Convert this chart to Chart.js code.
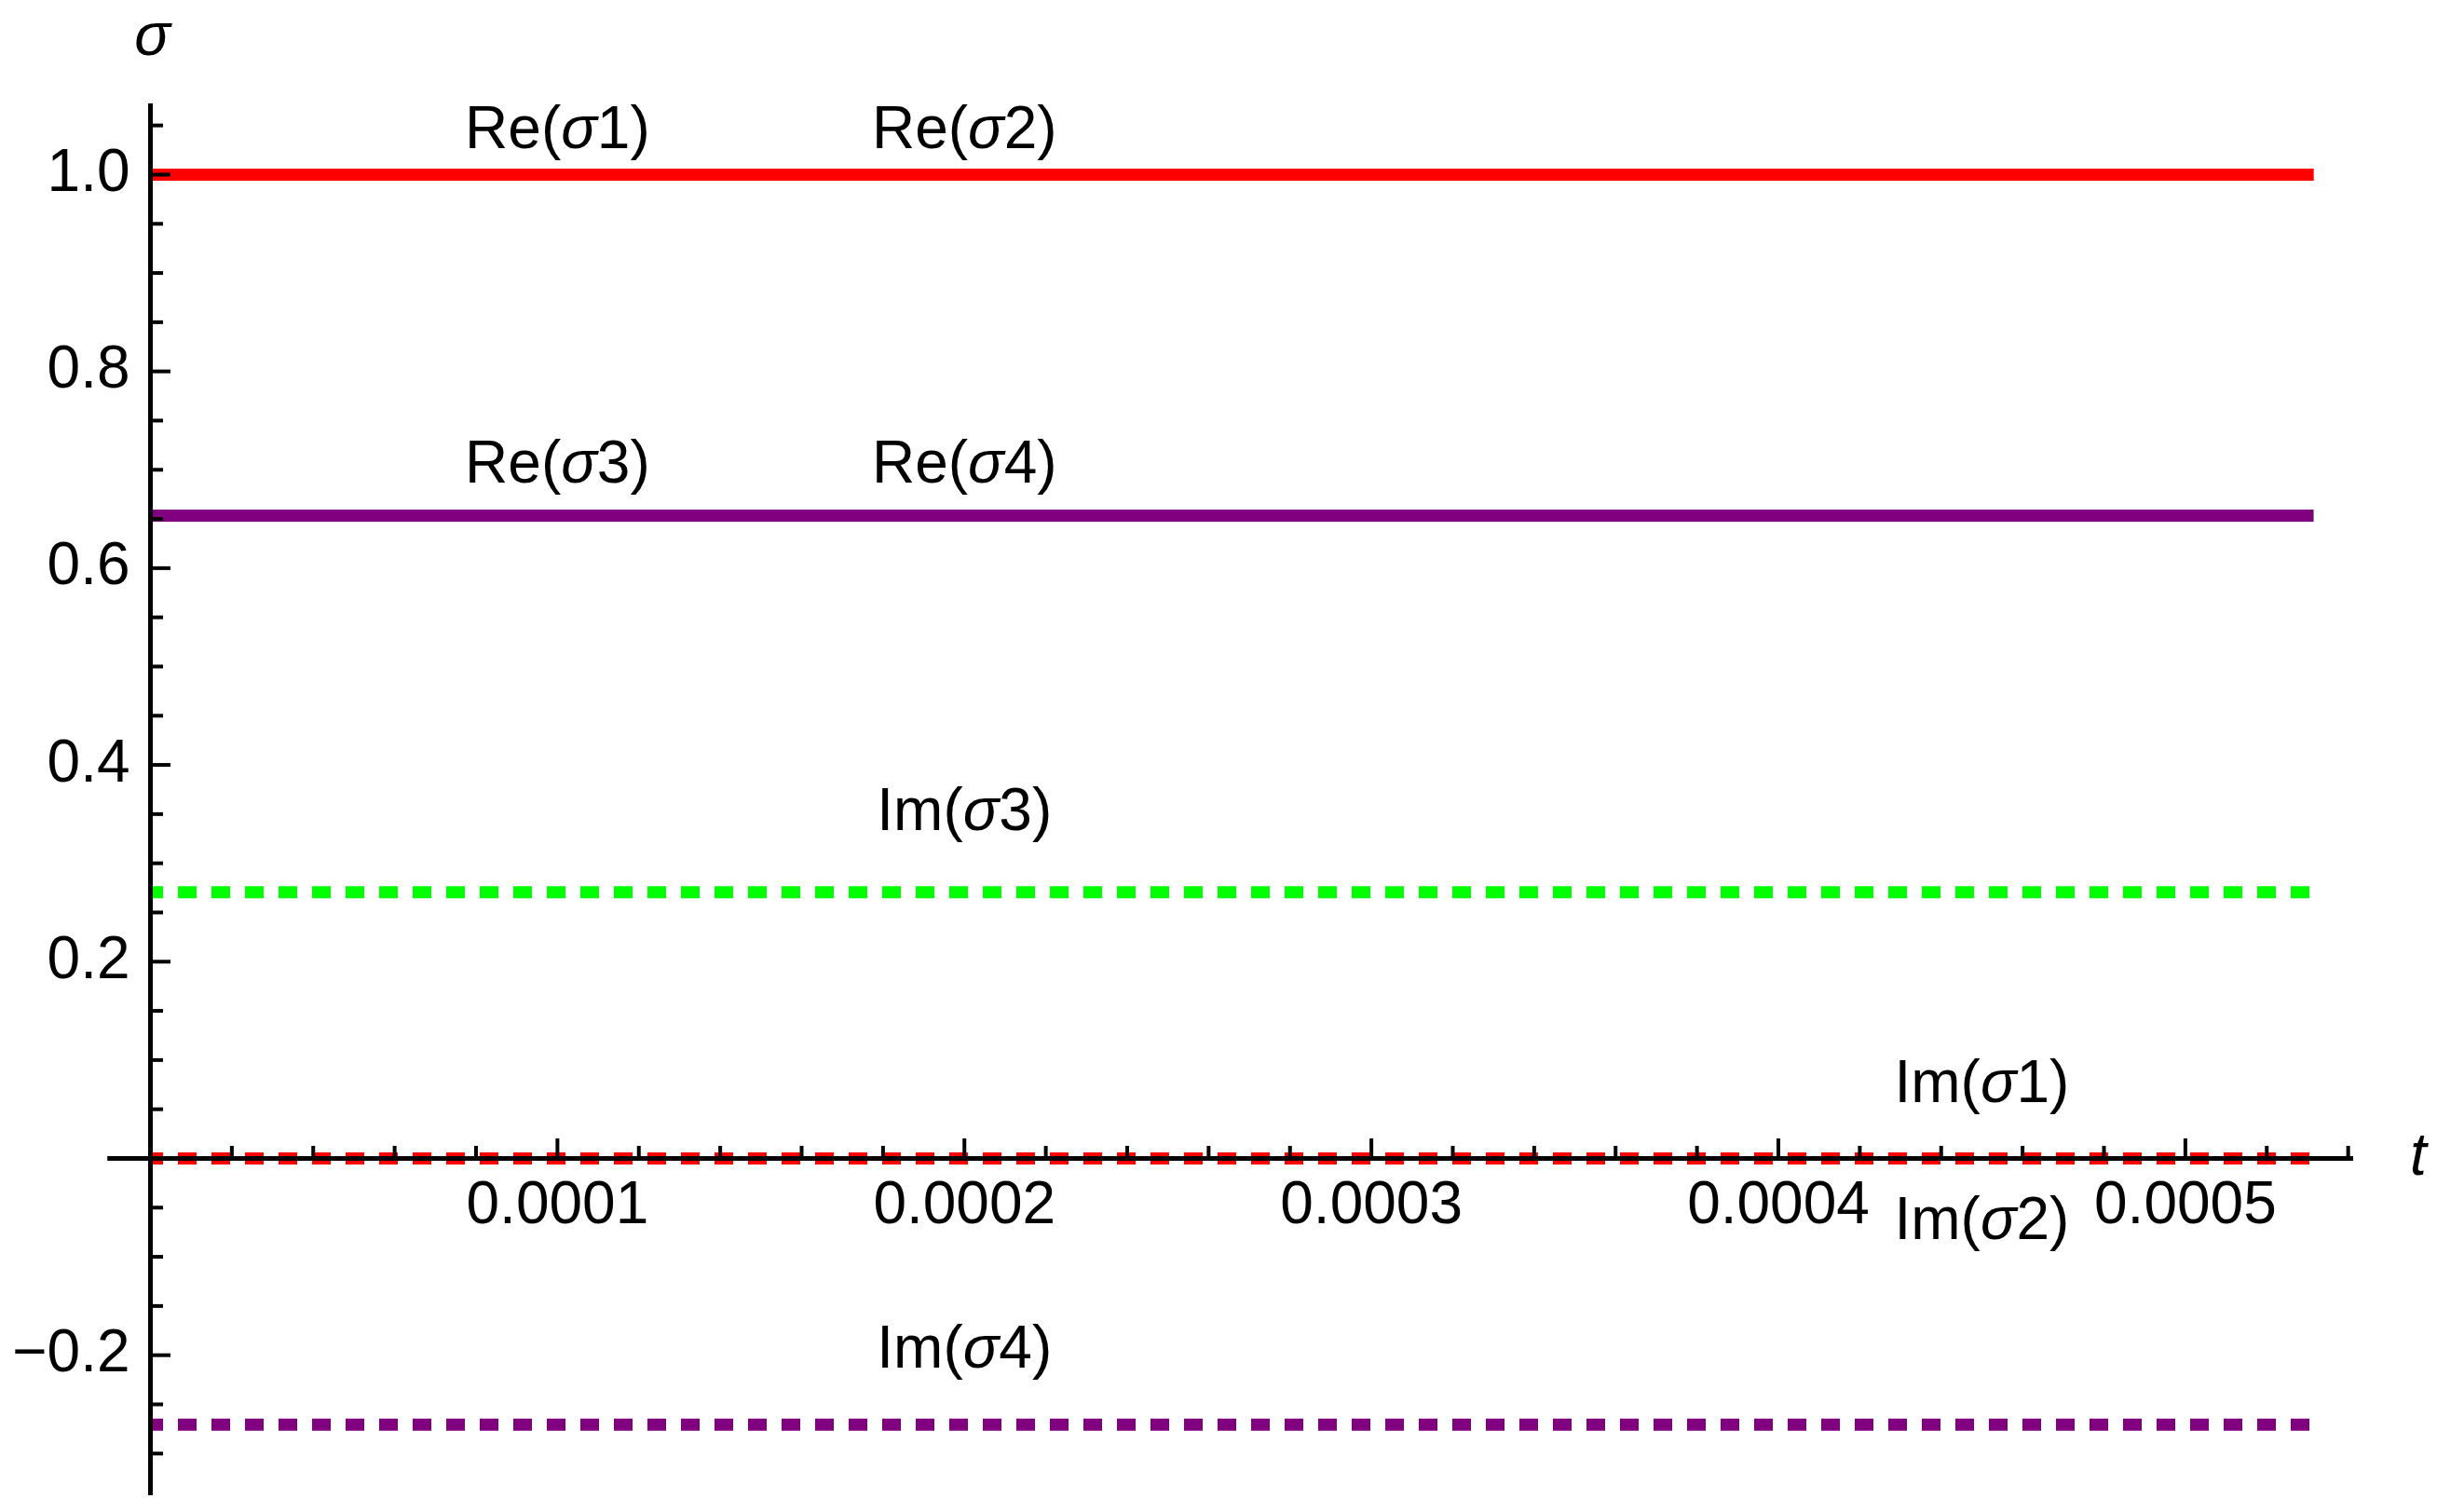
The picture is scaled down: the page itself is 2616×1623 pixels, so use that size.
<!DOCTYPE html>
<html>
<head>
<meta charset="utf-8">
<script src="https://cdn.jsdelivr.net/npm/chart.js@4.4.1/dist/chart.umd.min.js"></script>
<style>
  html, body { margin: 0; padding: 0; background: #ffffff; }
  #wrap { width: 2616px; height: 1623px; position: relative; }
</style>
</head>
<body>
<div id="wrap"><canvas id="c"></canvas></div>
<script>
// ---------- data ----------
const tValues   = [0, 0.0001, 0.0002, 0.0003, 0.0004, 0.0005, 0.00053];
const reSigma1  = [1, 1, 1, 1, 1, 1, 1];
const reSigma2  = [1, 1, 1, 1, 1, 1, 1];
const reSigma3  = [0.6533, 0.6533, 0.6533, 0.6533, 0.6533, 0.6533, 0.6533];
const reSigma4  = [0.6533, 0.6533, 0.6533, 0.6533, 0.6533, 0.6533, 0.6533];
const imSigma1  = [0, 0, 0, 0, 0, 0, 0];
const imSigma2  = [0, 0, 0, 0, 0, 0, 0];
const imSigma3  = [0.2706, 0.2706, 0.2706, 0.2706, 0.2706, 0.2706, 0.2706];
const imSigma4  = [-0.2706, -0.2706, -0.2706, -0.2706, -0.2706, -0.2706, -0.2706];

// axis ranges
const tMin = 0, tMax = 0.000541, tAxisStart = -0.0000106;
const sigmaMin = -0.3414, sigmaMax = 1.0705;

// ticks
const xMajorTicks  = [0.0001, 0.0002, 0.0003, 0.0004, 0.0005];
const xTickLabels  = ['0.0001', '0.0002', '0.0003', '0.0004', '0.0005'];
const xMinorTicks  = [0.00002, 0.00004, 0.00006, 0.00008, 0.00012, 0.00014, 0.00016, 0.00018,
                      0.00022, 0.00024, 0.00026, 0.00028, 0.00032, 0.00034, 0.00036, 0.00038,
                      0.00042, 0.00044, 0.00046, 0.00048, 0.00052, 0.00054];
const yMajorTicks  = [-0.2, 0, 0.2, 0.4, 0.6, 0.8, 1.0];
const yTickLabels  = ['\u22120.2', '', '0.2', '0.4', '0.6', '0.8', '1.0'];
const yMinorTicks  = [-0.3, -0.25, -0.15, -0.1, -0.05, 0.05, 0.1, 0.15, 0.25, 0.3, 0.35,
                      0.45, 0.5, 0.55, 0.65, 0.7, 0.75, 0.85, 0.9, 0.95, 1.05];

// curve labels: [prefix, italic symbol, suffix], anchored in data coordinates
const curveLabelParts = [['Re(', '\u03c3', '1)'], ['Re(', '\u03c3', '2)'], ['Re(', '\u03c3', '3)'], ['Re(', '\u03c3', '4)'],
                         ['Im(', '\u03c3', '3)'], ['Im(', '\u03c3', '1)'], ['Im(', '\u03c3', '2)'], ['Im(', '\u03c3', '4)']];
const curveLabelT     = [0.0001, 0.0002, 0.0001, 0.0002, 0.0002, 0.00045, 0.00045, 0.0002];
const curveLabelSigma = [1.027, 1.027, 0.6866, 0.6866, 0.3338, 0.0573, -0.0819, -0.2126];

const axisLabelX = 't';
const axisLabelY = '\u03c3';

// ---------- styling ----------
const RED = '#ff0000', GREEN = '#00ff00', PURPLE = '#800080';
const FAMILY = "'Liberation Sans', Arial, sans-serif";
const FONT_SIZE = 64;
const REG = FONT_SIZE + 'px ' + FAMILY;
const ITAL = 'italic ' + FONT_SIZE + 'px ' + FAMILY;

function series(label, values, color, dashed) {
  return {
    label: label,
    data: tValues.map((t, i) => ({ x: t, y: values[i] })),
    borderColor: color,
    backgroundColor: color,
    borderWidth: 13,
    borderCapStyle: 'square',
    borderDash: dashed ? [7, 29] : [],
    pointRadius: 0,
    pointHoverRadius: 0,
    fill: false,
    tension: 0
  };
}

const decorPlugin = {
  id: 'decor',
  afterDraw(chart) {
    const { ctx, scales } = chart;
    const xs = scales.x, ys = scales.y;
    const x0 = xs.getPixelForValue(0);
    const y0 = ys.getPixelForValue(0);
    ctx.save();
    ctx.fillStyle = '#000000';
    // x axis extension left of the origin
    const xStart = xs.getPixelForValue(tAxisStart);
    ctx.fillRect(xStart, y0 - 2.5, x0 - xStart, 5);
    // y ticks (pointing right)
    yMajorTicks.forEach(v => { if (v !== 0) { const p = ys.getPixelForValue(v); ctx.fillRect(x0, p - 2, 2.5 + 19, 4); } });
    yMinorTicks.forEach(v => { const p = ys.getPixelForValue(v); ctx.fillRect(x0, p - 2, 2.5 + 11, 4); });
    // x ticks (pointing up)
    xMajorTicks.forEach(v => { const p = xs.getPixelForValue(v); ctx.fillRect(p - 2, y0 - 2.5 - 19, 4, 19 + 2.5); });
    xMinorTicks.forEach(v => { const p = xs.getPixelForValue(v); ctx.fillRect(p - 2, y0 - 2.5 - 11, 4, 11 + 2.5); });

    // curve labels
    ctx.textBaseline = 'alphabetic';
    ctx.textAlign = 'left';
    curveLabelParts.forEach((parts, k) => {
      const fonts = [REG, ITAL, REG];
      const widths = parts.map((s, i) => { ctx.font = fonts[i]; return ctx.measureText(s).width; });
      const total = widths.reduce((a, b) => a + b, 0);
      let xx = xs.getPixelForValue(curveLabelT[k]) - total / 2;
      const by = ys.getPixelForValue(curveLabelSigma[k]);
      parts.forEach((s, i) => { ctx.font = fonts[i]; ctx.fillText(s, xx, by); xx += widths[i]; });
    });

    // axis labels
    ctx.font = ITAL;
    ctx.textAlign = 'center';
    ctx.fillText(axisLabelY, x0 + 2, ys.top - 54);
    ctx.textAlign = 'left';
    ctx.fillText(axisLabelX, xs.right + 62, y0 + 18);
    ctx.restore();
  }
};

const tickFont = { family: FAMILY, size: FONT_SIZE, lineHeight: 1.2 };

new Chart(document.getElementById('c'), {
  type: 'line',
  data: {
    datasets: [
      series('Re(\u03c32)', reSigma2, RED, false),
      series('Re(\u03c31)', reSigma1, RED, false),
      series('Re(\u03c34)', reSigma4, PURPLE, false),
      series('Re(\u03c33)', reSigma3, GREEN, false),
      series('Im(\u03c32)', imSigma2, RED, true),
      series('Im(\u03c31)', imSigma1, RED, true),
      series('Im(\u03c34)', imSigma4, PURPLE, true),
      series('Im(\u03c33)', imSigma3, GREEN, true)
    ]
  },
  options: {
    responsive: true,
    maintainAspectRatio: false,
    devicePixelRatio: 1,
    animation: false,
    events: [],
    layout: { padding: { left: 0, top: 113, right: 91, bottom: 19 } },
    plugins: { legend: { display: false }, tooltip: { enabled: false }, title: { display: false } },
    scales: {
      x: {
        type: 'linear',
        min: tMin,
        max: tMax,
        position: { y: 0 },
        grid: { display: false, drawTicks: false, tickLength: 0 },
        border: { display: true, color: '#000000', width: 5, z: 1 },
        afterBuildTicks: s => { s.ticks = xMajorTicks.map(v => ({ value: v })); },
        afterFit: s => { s.paddingLeft = 0; s.paddingRight = 0; },
        ticks: {
          autoSkip: false, maxRotation: 0, minRotation: 0, padding: 13, color: '#000000',
          font: tickFont,
          callback: (v, i) => xTickLabels[i]
        }
      },
      y: {
        type: 'linear',
        min: sigmaMin,
        max: sigmaMax,
        position: 'left',
        grid: { display: false, drawTicks: false, tickLength: 0 },
        border: { display: true, color: '#000000', width: 5, z: 1 },
        afterBuildTicks: s => { s.ticks = yMajorTicks.map(v => ({ value: v })); },
        afterFit: s => { s.width = 161.5; s.paddingTop = 0; s.paddingBottom = 0; },
        ticks: {
          autoSkip: false, padding: 22, color: '#000000',
          font: tickFont,
          callback: (v, i) => yTickLabels[i]
        }
      }
    }
  },
  plugins: [decorPlugin]
});
</script>
</body>
</html>
